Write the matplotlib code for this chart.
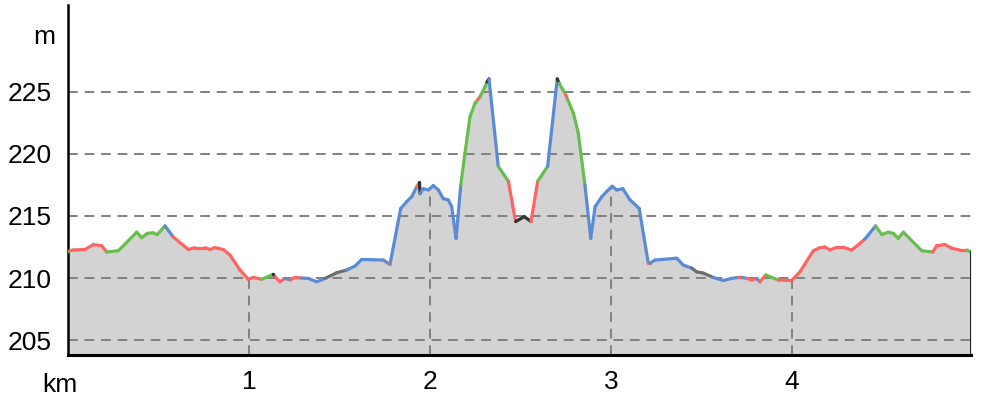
import numpy as np
import matplotlib
matplotlib.use("Agg")
import matplotlib.pyplot as plt
from matplotlib.collections import LineCollection

# distance along route (km)
dist_km = [0.000, 0.011, 0.029, 0.094, 0.140, 0.186, 0.214, 0.278, 0.380, 0.407,
           0.438, 0.468, 0.493, 0.536, 0.582, 0.665, 0.702, 0.757, 0.785, 0.812,
           0.858, 0.895, 0.950, 0.996, 1.024, 1.070, 1.134, 1.144, 1.171, 1.199,
           1.227, 1.254, 1.291, 1.328, 1.374, 1.420, 1.485, 1.540, 1.586, 1.623,
           1.742, 1.768, 1.779, 1.838, 1.871, 1.899, 1.927, 1.942, 1.945, 1.963,
           1.991, 2.018, 2.046, 2.073, 2.101, 2.120, 2.144, 2.170, 2.193, 2.221,
           2.249, 2.265, 2.276, 2.304, 2.315, 2.326, 2.377, 2.433, 2.473, 2.521,
           2.558, 2.595, 2.650, 2.703, 2.713, 2.749, 2.760, 2.792, 2.819, 2.856,
           2.888, 2.912, 2.949, 2.976, 3.007, 3.031, 3.065, 3.105, 3.156, 3.206,
           3.215, 3.243, 3.363, 3.399, 3.446, 3.473, 3.510, 3.565, 3.620, 3.667,
           3.702, 3.724, 3.750, 3.777, 3.805, 3.823, 3.855, 3.924, 3.998, 4.044,
           4.118, 4.155, 4.182, 4.210, 4.247, 4.283, 4.330, 4.376, 4.403, 4.462,
           4.496, 4.532, 4.560, 4.587, 4.615, 4.717, 4.777, 4.799, 4.845, 4.882,
           4.928, 4.965, 4.989]

# elevation (m)
elev_m = [212.1, 212.2, 212.26, 212.3, 212.7, 212.6, 212.1, 212.2, 213.7, 213.25,
          213.6, 213.65, 213.5, 214.2, 213.3, 212.3, 212.45, 212.45, 212.3, 212.45,
          212.3, 211.85, 210.65, 209.9, 210.05, 209.9, 210.3, 210.1, 209.7, 209.97,
          209.85, 210.05, 210.0, 209.97, 209.7, 209.97, 210.43, 210.65, 210.97, 211.5,
          211.45, 211.2, 211.1, 215.6, 216.15, 216.56, 217.36, 217.7, 216.8, 217.2,
          217.1, 217.45, 217.1, 216.4, 216.3, 215.75, 213.2, 217.5, 220.05, 223.0,
          224.1, 224.4, 224.6, 225.4, 225.8, 226.05, 219.0, 217.8, 214.55, 214.95,
          214.55, 217.8, 219.0, 226.05, 225.7, 224.8, 224.4, 223.3, 221.7, 217.5,
          213.2, 215.75, 216.55, 216.97, 217.4, 217.1, 217.2, 216.3, 215.6, 211.2,
          211.2, 211.45, 211.6, 211.05, 210.8, 210.5, 210.4, 210.05, 209.8, 209.97,
          210.05, 210.05, 209.97, 209.84, 209.97, 209.7, 210.25, 209.84, 209.8, 210.5,
          212.2, 212.45, 212.5, 212.26, 212.48, 212.48, 212.26, 212.8, 213.15, 214.2,
          213.5, 213.7, 213.6, 213.2, 213.7, 212.2, 212.1, 212.6, 212.7, 212.4,
          212.26, 212.26, 212.1]

# segment category (segment i goes from point i to point i+1)
seg_class = ['g', 'r', 'r', 'r', 'r', 'r', 'g', 'g', 'g', 'g',
             'g', 'g', 'g', 'b', 'r', 'r', 'r', 'r', 'r', 'r',
             'r', 'r', 'r', 'r', 'r', 'g', 'k', 'r', 'r', 'b',
             'r', 'r', 'b', 'b', 'b', 'gr', 'gr', 'b', 'b', 'b',
             'b', 'r', 'b', 'b', 'b', 'b', 'r', 'k', 'b', 'b',
             'b', 'b', 'b', 'b', 'b', 'b', 'b', 'g', 'g', 'g',
             'g', 'r', 'g', 'g', 'k', 'b', 'g', 'r', 'k', 'k',
             'r', 'g', 'b', 'k', 'g', 'r', 'g', 'g', 'g', 'b',
             'b', 'b', 'b', 'b', 'b', 'b', 'b', 'b', 'b', 'r',
             'b', 'b', 'b', 'b', 'gr', 'gr', 'gr', 'b', 'b', 'b',
             'r', 'b', 'r', 'r', 'b', 'r', 'g', 'r', 'r', 'r',
             'r', 'r', 'r', 'r', 'r', 'r', 'r', 'r', 'b', 'g',
             'g', 'g', 'g', 'g', 'g', 'g', 'r', 'r', 'r', 'r',
             'r', 'g']

y_ticks = [205, 210, 215, 220, 225]
x_ticks = [1, 2, 3, 4]

palette = {'r': '#ff6464', 'g': '#68be4c', 'b': '#5a8bd4', 'k': '#333333', 'gr': '#6e6e6e'}

plt.rcParams['font.family'] = ['Liberation Sans', 'DejaVu Sans']

x = np.array(dist_km)
y = np.array(elev_m)
ymin, ymax = 203.8, 232.0

fig = plt.figure(figsize=(9.81, 4.0), dpi=100)
ax = fig.add_axes([68 / 981, 45 / 400, (971 - 68) / 981, (355 - 5) / 400])
ax.set_xlim(0, x[-1])
ax.set_ylim(ymin, ymax)

ax.fill_between(x, ymin, y, color='#d3d3d3', linewidth=0, zorder=1)

for t in y_ticks:
    ax.plot([0, x[-1]], [t, t], color='#808080', lw=1.4, dashes=(5, 3.5), zorder=2)
for t in x_ticks:
    ax.plot([t, t], [ymin, np.interp(t, x, y)], color='#808080', lw=1.4, dashes=(5, 3.5), zorder=2)

pts = np.column_stack([x, y]).reshape(-1, 1, 2)
segs = np.concatenate([pts[:-1], pts[1:]], axis=1)
lc = LineCollection(segs, colors=[palette[c] for c in seg_class], linewidths=2.3,
                    capstyle='round', joinstyle='round', zorder=3)
ax.add_collection(lc)
ax.plot([x[-1], x[-1]], [ymin, y[-1]], color='black', lw=1.2, zorder=3)

for s in ['top', 'right']:
    ax.spines[s].set_visible(False)
ax.spines['left'].set_linewidth(1.8)
ax.spines['bottom'].set_linewidth(2.2)

ax.set_yticks(y_ticks)
ax.set_yticklabels([str(v) for v in y_ticks])
ax.set_xticks(x_ticks)
ax.set_xticklabels([str(v) for v in x_ticks])
ax.tick_params(axis='both', length=0, labelsize=19)
ax.tick_params(axis='y', pad=12)
ax.tick_params(axis='x', pad=11)

fig.text(55 / 981, 1 - 37 / 400, 'm', fontsize=19, ha='right', va='center')
fig.text(60 / 981, 1 - 385 / 400, 'km', fontsize=19, ha='center', va='center')

fig.savefig('out.png', dpi=100)
